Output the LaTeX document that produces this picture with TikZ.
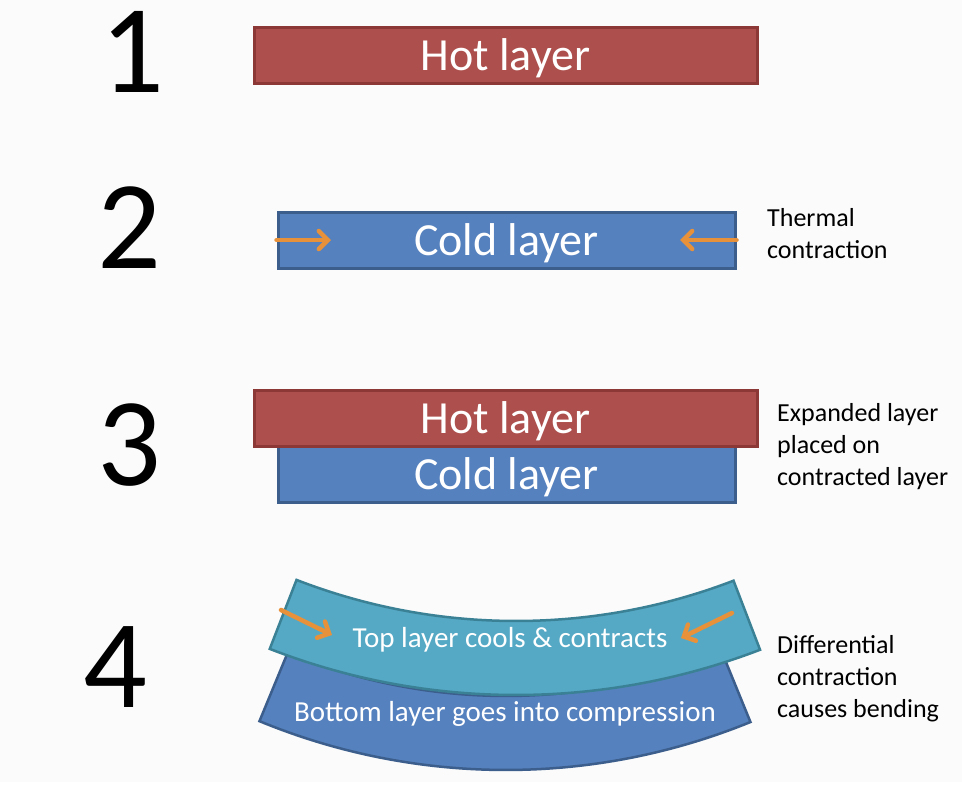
\documentclass[tikz,border=0pt]{standalone}
\usepackage{fontspec}
\setmainfont{Carlito}
\usetikzlibrary{arrows.meta, positioning}
\definecolor{hotfill}{HTML}{AD4F4C}
\definecolor{hotdraw}{HTML}{8C3836}
\definecolor{coldfill}{HTML}{5581BE}
\definecolor{colddraw}{HTML}{3B5E8C}
\definecolor{topfill}{HTML}{55A9C5}
\definecolor{topdraw}{HTML}{3B8196}
\definecolor{shrinkorange}{HTML}{E8913B}
\definecolor{paper}{HTML}{FBFBFB}
\tikzset{
  hotlayer/.style={
    rectangle, minimum width=503pt, minimum height=56pt, inner sep=0pt,
    text centered, draw=hotdraw, fill=hotfill, line width=3pt, text=white,
    font=\fontsize{46}{50}\selectfont, text height=30pt, text depth=0pt
  },
  coldlayer/.style={
    rectangle, minimum width=457pt, minimum height=56pt, inner sep=0pt,
    text centered, draw=colddraw, fill=coldfill, line width=3pt, text=white,
    font=\fontsize{46}{50}\selectfont, text height=30pt, text depth=0pt
  },
  toplayer/.style={draw=topdraw, fill=topfill, line width=2.5pt},
  bottomlayer/.style={draw=colddraw, fill=coldfill, line width=2.5pt},
  bendtext/.style={text=white, font=\fontsize{29}{34}\selectfont, inner sep=0pt},
  stepnum/.style={font=\fontsize{126}{130}\selectfont, inner sep=0pt},
  note/.style={anchor=north west, align=left, font=\fontsize{26}{32}\selectfont, inner sep=0pt},
  shrink/.style={
    -{Straight Barb[length=9pt,width=18pt,line cap=round]},
    line width=4.5pt, color=shrinkorange, line cap=round
  }
}
\begin{document}
\begin{tikzpicture}[x=1pt, y=1pt]
\fill[paper] (0,0) rectangle (962,-782);

\node[stepnum] (n1) at (132,-52) {1};
\node[stepnum] (n2) at (129,-228) {2};
\node[stepnum] (n3) at (129,-445) {3};
\node[stepnum] (n4) at (115,-667) {4};

\node[hotlayer] (hot1) at (505.5,-55) {Hot layer};

\node[coldlayer] (cold2) at (506.5,-240) {Cold layer};
\coordinate (inL) at (331,-240);
\coordinate (inR) at (680,-240);
\draw[shrink] (cold2.west) -- (inL);
\draw[shrink] (cold2.east) -- (inR);
\node[note] (thermal) at (767,-208) {Thermal\\contraction};

\node[coldlayer] (cold3) at (506.5,-474) {Cold layer};
\node[hotlayer] (hot3) at (505.5,-418) {Hot layer};
\node[note] (expanded) at (777,-403) {Expanded layer\\placed on\\contracted layer};

\draw[bottomlayer] ([shift={(506,-123)}]247.6:573) arc[start angle=247.6, end angle=292.2, radius=573]
  -- ([shift={(506,-123)}]292.2:647) arc[start angle=292.2, end angle=247.6, radius=647] -- cycle;
\draw[toplayer] ([shift={(516,-14)}]248.8:607) arc[start angle=248.8, end angle=291, radius=607]
  -- ([shift={(516,-14)}]291:681) arc[start angle=291, end angle=248.8, radius=681] -- cycle;
\node[bendtext] (toptext) at (510,-640) {Top layer cools \& contracts};
\node[bendtext] (bottomtext) at (505,-714) {Bottom layer goes into compression};
\coordinate (tailL) at (281,-610);
\coordinate (headL) at (332,-635);
\coordinate (tailR) at (732,-613);
\coordinate (headR) at (681,-638);
\draw[shrink] (tailL) -- (headL);
\draw[shrink] (tailR) -- (headR);
\node[note] (differential) at (777,-635) {Differential\\contraction\\causes bending};
\end{tikzpicture}
\end{document}
